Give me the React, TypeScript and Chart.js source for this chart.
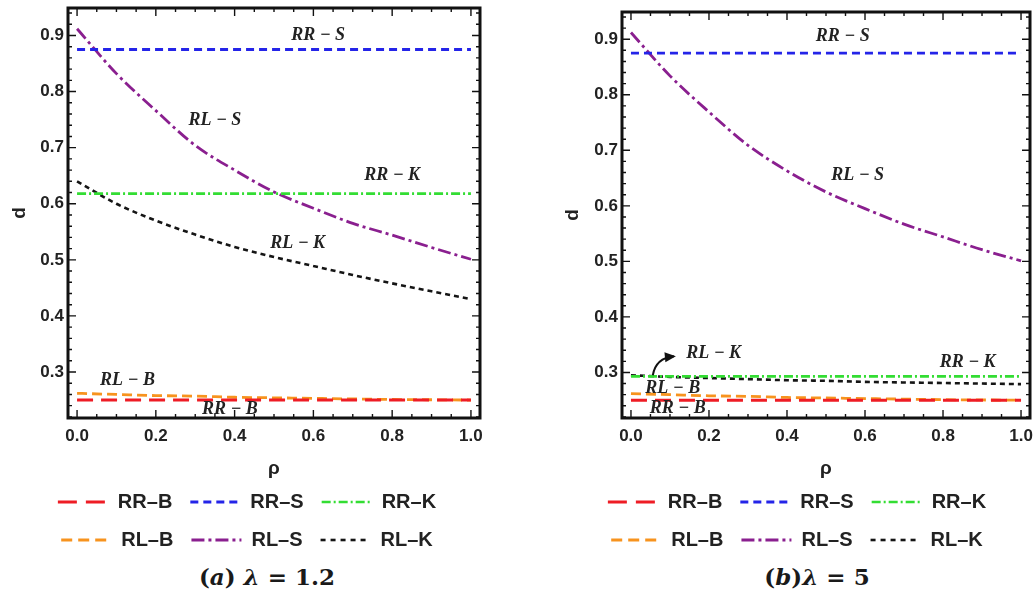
import React, { useEffect, useRef } from 'react';
import { Chart, registerables } from 'chart.js';
Chart.register(...registerables);

// ---------- data ----------
const rho = [0, 0.1, 0.2, 0.3, 0.4, 0.5, 0.6, 0.7, 0.8, 0.9, 1.0];
const seriesNames = ['RR–B', 'RR–S', 'RR–K', 'RL–B', 'RL–S', 'RL–K'];

// panel (a) λ = 1.2
const rrB_a = [0.25, 0.25, 0.25, 0.25, 0.25, 0.25, 0.25, 0.25, 0.25, 0.25, 0.25];
const rrS_a = [0.875, 0.875, 0.875, 0.875, 0.875, 0.875, 0.875, 0.875, 0.875, 0.875, 0.875];
const rrK_a = [0.618, 0.618, 0.618, 0.618, 0.618, 0.618, 0.618, 0.618, 0.618, 0.618, 0.618];
const rlB_a = [0.262, 0.26, 0.258, 0.257, 0.255, 0.254, 0.253, 0.252, 0.251, 0.2505, 0.25];
const rlS_a = [0.912, 0.832, 0.766, 0.704, 0.66, 0.621, 0.592, 0.565, 0.544, 0.522, 0.501];
const rlK_a = [0.64, 0.6, 0.57, 0.545, 0.523, 0.505, 0.489, 0.473, 0.458, 0.444, 0.43];

// panel (b) λ = 5
const rrB_b = [0.25, 0.25, 0.25, 0.25, 0.25, 0.25, 0.25, 0.25, 0.25, 0.25, 0.25];
const rrS_b = [0.875, 0.875, 0.875, 0.875, 0.875, 0.875, 0.875, 0.875, 0.875, 0.875, 0.875];
const rrK_b = [0.293, 0.293, 0.293, 0.293, 0.293, 0.293, 0.293, 0.293, 0.293, 0.293, 0.293];
const rlB_b = [0.262, 0.26, 0.258, 0.257, 0.255, 0.254, 0.253, 0.252, 0.251, 0.2505, 0.25];
const rlS_b = [0.912, 0.834, 0.769, 0.709, 0.663, 0.625, 0.595, 0.567, 0.544, 0.521, 0.501];
const rlK_b = [0.295, 0.292, 0.29, 0.288, 0.286, 0.285, 0.283, 0.282, 0.281, 0.28, 0.279];

const xMajorTicks = [0, 0.2, 0.4, 0.6, 0.8, 1.0];
const yMajorTicks = [0.3, 0.4, 0.5, 0.6, 0.7, 0.8, 0.9];
const X_MIN = -0.023, X_MAX = 1.023, Y_MIN = 0.218, Y_MAX = 0.949;

type Label = { text: string; x: number; y: number };
const labelsA: Label[] = [
  { text: 'RR − S', x: 0.612, y: 0.9 },
  { text: 'RL − S', x: 0.35, y: 0.749 },
  { text: 'RR − K', x: 0.8, y: 0.65 },
  { text: 'RL − K', x: 0.56, y: 0.529 },
  { text: 'RL − B', x: 0.128, y: 0.286 },
  { text: 'RR − B', x: 0.388, y: 0.234 },
];
const labelsB: Label[] = [
  { text: 'RR − S', x: 0.543, y: 0.905 },
  { text: 'RL − S', x: 0.581, y: 0.655 },
  { text: 'RL − K', x: 0.212, y: 0.335 },
  { text: 'RR − K', x: 0.863, y: 0.318 },
  { text: 'RL − B', x: 0.107, y: 0.272 },
  { text: 'RR − B', x: 0.12, y: 0.235 },
];
const arrowB = { from: [0.056, 0.295], ctrl: [0.064, 0.326], to: [0.11, 0.329] };

const lineStyles = [
  { color: '#ee1c25', dash: [16, 8], width: 3, legendDash: [19, 9] },
  { color: '#2424e8', dash: [8, 5], width: 2.8, legendDash: [8, 5] },
  { color: '#33dd33', dash: [9, 3, 2, 3], width: 2.6, legendDash: [9, 3, 2, 3] },
  { color: '#f7931e', dash: [10, 5], width: 2.8, legendDash: [11, 6] },
  { color: '#8a1f8f', dash: [13, 4, 3, 4], width: 2.8, legendDash: [13, 4, 3, 4] },
  { color: '#151515', dash: [5, 4], width: 2.6, legendDash: [5, 5] },
];

const SANS = '"Liberation Sans", Arial, sans-serif';
const SERIF = '"Liberation Serif", "Times New Roman", serif';
const CAPSERIF = '"DejaVu Serif", "Liberation Serif", serif';

type PanelCfg = {
  left: number;
  width: number;
  series: number[][];
  labels: Label[];
  arrow?: { from: number[]; ctrl: number[]; to: number[] };
  padTop: number;
  padRight: number;
  yWidth: number;
  yTitlePad: number;
  legendDx: number;
};

function Panel({ cfg }: { cfg: PanelCfg }) {
  const ref = useRef<HTMLCanvasElement>(null);
  useEffect(() => {
    const decor = {
      id: 'decor',
      afterLayout(chart: any) {
        const lg = chart.legend;
        if (lg) {
          lg.left += cfg.legendDx;
          lg.right += cfg.legendDx;
        }
      },
      afterDatasetsDraw(chart: any) {
        const { ctx, chartArea: a } = chart;
        const xs = chart.scales.x;
        const ys = chart.scales.y;
        ctx.save();
        ctx.setLineDash([]);
        ctx.strokeStyle = '#111';
        ctx.lineWidth = 1.4;
        ctx.beginPath();
        for (let i = 0; i <= 20; i++) {
          const v = i * 0.05;
          const major = i % 4 === 0;
          const len = major ? 8 : 4;
          const px = xs.getPixelForValue(v);
          ctx.moveTo(px, a.bottom);
          ctx.lineTo(px, a.bottom - len);
          ctx.moveTo(px, a.top);
          ctx.lineTo(px, a.top + len);
        }
        for (let i = 11; i <= 47; i++) {
          const v = i * 0.02;
          const major = i % 5 === 0;
          const len = major ? 8 : 4;
          const py = ys.getPixelForValue(v);
          ctx.moveTo(a.left, py);
          ctx.lineTo(a.left + len, py);
          ctx.moveTo(a.right, py);
          ctx.lineTo(a.right - len, py);
        }
        ctx.stroke();
        ctx.lineWidth = 3;
        ctx.strokeRect(a.left, a.top, a.right - a.left, a.bottom - a.top);

        ctx.fillStyle = '#222';
        ctx.font = `italic bold 18px ${SERIF}`;
        ctx.textAlign = 'center';
        ctx.textBaseline = 'middle';
        cfg.labels.forEach((l) => {
          ctx.fillText(l.text, xs.getPixelForValue(l.x), ys.getPixelForValue(l.y));
        });

        if (cfg.arrow) {
          const f = [xs.getPixelForValue(cfg.arrow.from[0]), ys.getPixelForValue(cfg.arrow.from[1])];
          const c = [xs.getPixelForValue(cfg.arrow.ctrl[0]), ys.getPixelForValue(cfg.arrow.ctrl[1])];
          const t = [xs.getPixelForValue(cfg.arrow.to[0]), ys.getPixelForValue(cfg.arrow.to[1])];
          ctx.strokeStyle = '#111';
          ctx.lineWidth = 2;
          ctx.beginPath();
          ctx.moveTo(f[0], f[1]);
          ctx.quadraticCurveTo(c[0], c[1], t[0], t[1]);
          ctx.stroke();
          const ang = Math.atan2(t[1] - c[1], t[0] - c[0]);
          const L = 9, W = 5;
          ctx.fillStyle = '#111';
          ctx.beginPath();
          ctx.moveTo(t[0] + Math.cos(ang) * 2, t[1] + Math.sin(ang) * 2);
          ctx.lineTo(t[0] - Math.cos(ang) * L + Math.sin(ang) * W, t[1] - Math.sin(ang) * L - Math.cos(ang) * W);
          ctx.lineTo(t[0] - Math.cos(ang) * L - Math.sin(ang) * W, t[1] - Math.sin(ang) * L + Math.cos(ang) * W);
          ctx.closePath();
          ctx.fill();
        }
        ctx.restore();
      },
    };

    const chart = new Chart(ref.current!, {
      type: 'line',
      data: {
        datasets: cfg.series.map((vals, i) => ({
          label: seriesNames[i],
          data: rho.map((r, k) => ({ x: r, y: vals[k] })),
          borderColor: lineStyles[i].color,
          backgroundColor: lineStyles[i].color,
          borderDash: lineStyles[i].dash,
          borderWidth: lineStyles[i].width,
          pointRadius: 0,
          fill: false,
          tension: 0.4,
          cubicInterpolationMode: 'monotone' as const,
        })),
      },
      options: {
        responsive: false,
        animation: false,
        layout: { padding: { top: cfg.padTop, right: cfg.padRight, left: 0, bottom: 0 } },
        plugins: {
          tooltip: { enabled: false },
          legend: {
            position: 'bottom',
            labels: {
              usePointStyle: true,
              pointStyle: 'line',
              pointStyleWidth: 50,
              padding: 18,
              color: '#222',
              font: { family: SANS, size: 20, weight: 'bold' },
              generateLabels: (ch: any) =>
                ch.data.datasets.map((ds: any, i: number) => ({
                  text: ds.label,
                  datasetIndex: i,
                  fillStyle: lineStyles[i].color,
                  strokeStyle: lineStyles[i].color,
                  lineWidth: lineStyles[i].width,
                  lineDash: lineStyles[i].legendDash,
                  lineDashOffset: 0,
                  lineCap: 'butt',
                  pointStyle: 'line',
                  rotation: 0,
                  hidden: false,
                  fontColor: '#222',
                })),
            },
          },
        },
        scales: {
          x: {
            type: 'linear',
            min: X_MIN,
            max: X_MAX,
            afterBuildTicks: (s: any) => {
              s.ticks = xMajorTicks.map((v) => ({ value: v }));
            },
            afterFit: (s: any) => {
              s.height = 56;
              s.paddingLeft = 0;
              s.paddingRight = 0;
            },
            grid: { display: false, drawTicks: false },
            border: { display: false },
            ticks: {
              autoSkip: false,
              maxRotation: 0,
              padding: 8,
              color: '#222',
              font: { family: SANS, size: 17, weight: 'bold' },
              callback: (v: any) => Number(v).toFixed(1),
            },
            title: {
              display: true,
              text: 'ρ',
              color: '#222',
              font: { family: SANS, size: 19, weight: 'bold' },
              padding: { top: 0, bottom: -6 },
            },
          },
          y: {
            type: 'linear',
            min: Y_MIN,
            max: Y_MAX,
            afterBuildTicks: (s: any) => {
              s.ticks = yMajorTicks.map((v) => ({ value: v }));
            },
            afterFit: (s: any) => {
              s.width = cfg.yWidth;
              s.paddingTop = 0;
              s.paddingBottom = 0;
            },
            grid: { display: false, drawTicks: false },
            border: { display: false },
            ticks: {
              autoSkip: false,
              padding: 4,
              color: '#222',
              font: { family: SANS, size: 17, weight: 'bold' },
              callback: (v: any) => Number(v).toFixed(1),
            },
            title: {
              display: true,
              text: 'd',
              color: '#222',
              font: { family: SANS, size: 19, weight: 'bold' },
              padding: { top: cfg.yTitlePad, bottom: 0 },
            },
          },
        },
      } as any,
      plugins: [decor],
    });
    return () => chart.destroy();
  }, []);
  return (
    <div style={{ position: 'absolute', left: cfg.left, top: 0, width: cfg.width, height: 560 }}>
      <canvas ref={ref} width={cfg.width} height={560} style={{ width: cfg.width, height: 560, display: 'block' }} />
    </div>
  );
}

const panelA: PanelCfg = {
  left: 0,
  width: 520,
  series: [rrB_a, rrS_a, rrK_a, rlB_a, rlS_a, rlK_a],
  labels: labelsA,
  padTop: 8,
  padRight: 40,
  yWidth: 68,
  yTitlePad: 8,
  legendDx: 7,
};
const panelB: PanelCfg = {
  left: 520,
  width: 516,
  series: [rrB_b, rrS_b, rrK_b, rlB_b, rlS_b, rlK_b],
  labels: labelsB,
  arrow: arrowB,
  padTop: 12,
  padRight: 6,
  yWidth: 102,
  yTitlePad: 41,
  legendDx: 22,
};

const capStyle: React.CSSProperties = {
  position: 'absolute',
  top: 561,
  width: 300,
  height: 32,
  lineHeight: '32px',
  textAlign: 'center',
  fontFamily: CAPSERIF,
  fontWeight: 'bold',
  fontSize: 23,
  color: '#1a1a1a',
  whiteSpace: 'pre',
};

export default function App() {
  return (
    <div style={{ position: 'absolute', left: 0, top: 0, width: 1036, height: 598, background: '#fff', overflow: 'hidden' }}>
      <Panel cfg={panelA} />
      <Panel cfg={panelB} />
      <div style={{ ...capStyle, left: 267 - 150 }}>
        (<i>a</i>) <i>λ</i> = 1.2
      </div>
      <div style={{ ...capStyle, left: 817 - 150 }}>
        (<i>b</i>)<i>λ</i> = 5
      </div>
    </div>
  );
}
